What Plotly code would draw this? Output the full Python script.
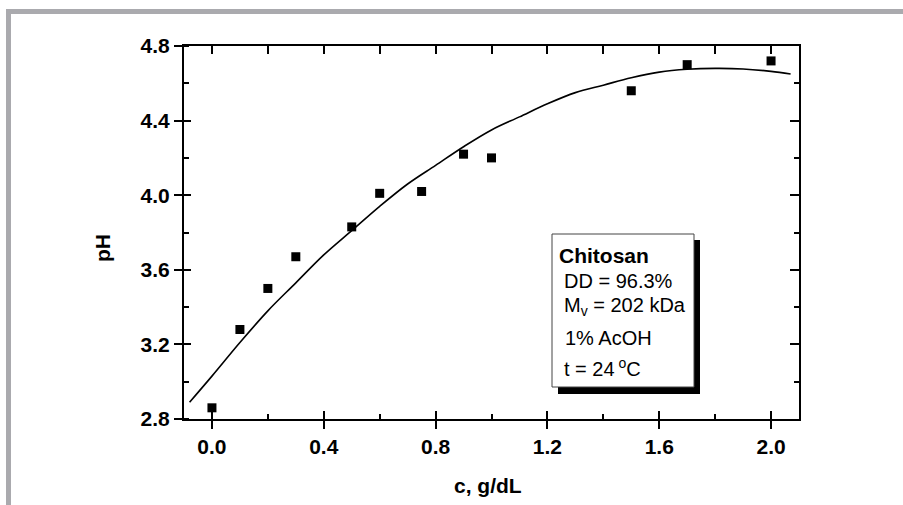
import plotly.graph_objects as go

# ---- data ----
conc = [0.0, 0.1, 0.2, 0.3, 0.5, 0.6, 0.75, 0.9, 1.0, 1.5, 1.7, 2.0]
ph = [2.86, 3.28, 3.50, 3.67, 3.83, 4.01, 4.02, 4.22, 4.20, 4.56, 4.70, 4.72]

fit_x = [-0.08, 0.0, 0.1, 0.2, 0.3, 0.4, 0.5, 0.6, 0.7, 0.8, 0.9, 1.0,
         1.1, 1.2, 1.3, 1.4, 1.5, 1.6, 1.7, 1.8, 1.9, 2.0, 2.07]
fit_y = [2.89, 3.03, 3.21, 3.38, 3.53, 3.68, 3.81, 3.94, 4.06, 4.16, 4.26, 4.35,
         4.42, 4.49, 4.55, 4.59, 4.63, 4.66, 4.675, 4.68, 4.677, 4.664, 4.65]

x_range = [-0.1, 2.1]
y_range = [2.8, 4.8]

box_lines = ["<b>Chitosan</b>", "DD = 96.3%", "M<sub>v</sub> = 202 kDa",
             "1% AcOH", "t = 24<sup> o</sup>C"]

# ---- layout geometry (pixels) ----
FW, FH = 903, 505
L, R, T, B = 184, 799, 46, 419
W, H = R - L, B - T


def px(x):
    return (x - L) / W


def py(y):
    return (B - y) / H


FONT = "Liberation Sans, Arial, sans-serif"

fig = go.Figure()

fig.add_trace(go.Scatter(x=fit_x, y=fit_y, mode="lines", line_shape="spline",
                         line=dict(color="black", width=1.6),
                         hoverinfo="skip", showlegend=False))
fig.add_trace(go.Scatter(x=conc, y=ph, mode="markers",
                         marker=dict(symbol="square", size=9, color="black"),
                         showlegend=False))
# invisible traces to activate the overlay axes used for tick styling
fig.add_trace(go.Scatter(x=conc, y=ph, mode="markers", xaxis="x2", yaxis="y2",
                         marker=dict(opacity=0), hoverinfo="skip", showlegend=False))
fig.add_trace(go.Scatter(x=conc, y=ph, mode="markers", xaxis="x3", yaxis="y3",
                         marker=dict(opacity=0), hoverinfo="skip", showlegend=False))

tickfont = dict(family=FONT, size=21, color="black", weight="bold")

fig.update_layout(
    width=FW, height=FH,
    margin=dict(l=L, r=FW - R, t=T, b=FH - B, pad=0),
    paper_bgcolor="white", plot_bgcolor="white",
    xaxis=dict(range=x_range, tick0=0, dtick=0.4, tickformat=".1f",
               ticks="outside", ticklen=8, tickwidth=2, tickcolor="black",
               showline=True, linewidth=2, linecolor="black",
               showgrid=False, zeroline=False, tickfont=tickfont,
               minor=dict(ticks="inside", ticklen=5, tickwidth=2, tickcolor="black",
                          tick0=0, dtick=0.2, showgrid=False)),
    yaxis=dict(range=y_range, tick0=2.8, dtick=0.4, tickformat=".1f",
               ticks="outside", ticklen=8, tickwidth=2, tickcolor="black",
               showline=True, linewidth=2, linecolor="black",
               showgrid=False, zeroline=False, tickfont=tickfont,
               minor=dict(ticks="inside", ticklen=5, tickwidth=2, tickcolor="black",
                          tick0=2.8, dtick=0.2, showgrid=False)),
    xaxis2=dict(range=x_range, overlaying="x", side="bottom", anchor="y2",
                tick0=0, dtick=0.4, ticks="inside", ticklen=8, tickwidth=2,
                tickcolor="black", showticklabels=False, showline=False,
                showgrid=False, zeroline=False),
    yaxis2=dict(range=y_range, overlaying="y", side="left", anchor="x2",
                tick0=2.8, dtick=0.4, ticks="inside", ticklen=7, tickwidth=2,
                tickcolor="black", showticklabels=False, showline=False,
                showgrid=False, zeroline=False),
    xaxis3=dict(range=x_range, overlaying="x", side="top", anchor="y3",
                tick0=0, dtick=0.2, ticks="inside", ticklen=8, tickwidth=2,
                tickcolor="black", showticklabels=False, showline=True,
                linewidth=2, linecolor="black", showgrid=False, zeroline=False),
    yaxis3=dict(range=y_range, overlaying="y", side="right", anchor="x3",
                tick0=2.8, dtick=0.4, ticks="inside", ticklen=9, tickwidth=2,
                tickcolor="black", showticklabels=False, showline=True,
                linewidth=2, linecolor="black", showgrid=False, zeroline=False,
                minor=dict(ticks="inside", ticklen=5, tickwidth=2, tickcolor="black",
                           tick0=2.8, dtick=0.2, showgrid=False)),
)

shapes = []
# grey page frame (top and left bands)
shapes.append(dict(type="rect", xref="paper", yref="paper",
                   x0=px(6), x1=px(FW + 2), y0=py(14), y1=py(9),
                   fillcolor="#aaaaae", line=dict(width=0), layer="above"))
shapes.append(dict(type="rect", xref="paper", yref="paper",
                   x0=px(6), x1=px(11), y0=py(FH + 2), y1=py(9),
                   fillcolor="#aaaaae", line=dict(width=0), layer="above"))
# info box: shadow then box
shapes.append(dict(type="rect", xref="paper", yref="paper",
                   x0=px(558), x1=px(700), y0=py(394), y1=py(240),
                   fillcolor="black", line=dict(width=0), layer="above"))
shapes.append(dict(type="rect", xref="paper", yref="paper",
                   x0=px(552), x1=px(694), y0=py(387), y1=py(234),
                   fillcolor="white", line=dict(color="#444444", width=1), layer="above"))
fig.update_layout(shapes=shapes)

annotations = []
line_x = [557, 562, 562, 563, 562]
line_y = [256, 281, 306, 338, 367]
line_size = [21, 20, 20, 20, 20]
for txt, xx, yy, fs in zip(box_lines, line_x, line_y, line_size):
    annotations.append(dict(text=txt, xref="paper", yref="paper",
                            x=px(xx), y=py(yy), xanchor="left", yanchor="middle",
                            showarrow=False,
                            font=dict(family=FONT, size=fs, color="black")))
# axis titles
annotations.append(dict(text="<b>c, g/dL</b>", xref="paper", yref="paper",
                        x=px(488), y=py(486), xanchor="center", yanchor="middle",
                        showarrow=False,
                        font=dict(family=FONT, size=21, color="black")))
annotations.append(dict(text="<b>pH</b>", xref="paper", yref="paper",
                        x=px(102), y=py(248), xanchor="center", yanchor="middle",
                        textangle=-90, showarrow=False,
                        font=dict(family=FONT, size=21, color="black")))
fig.update_layout(annotations=annotations)

fig.write_html("out.html")
